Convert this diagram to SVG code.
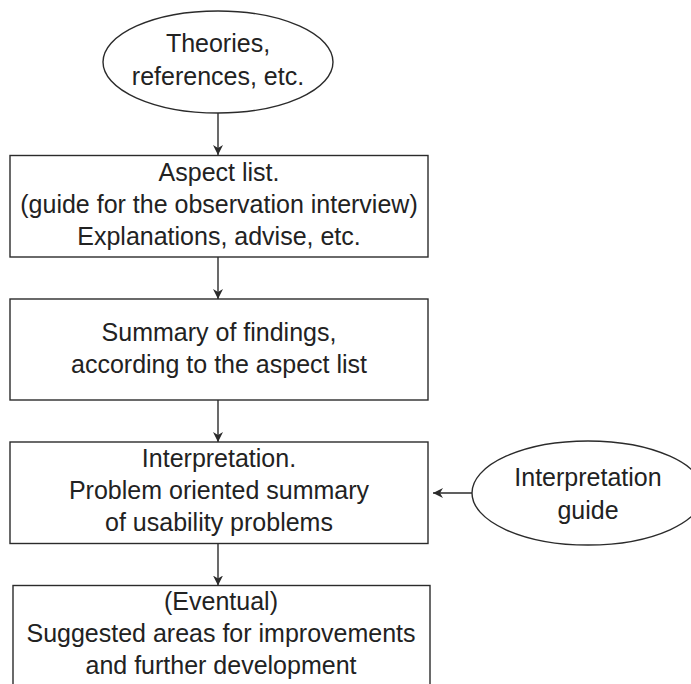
<svg xmlns="http://www.w3.org/2000/svg" width="691" height="684" viewBox="0 0 691 684">
<defs>
<style>
.shape{fill:#fff;stroke:#2b2b2b;stroke-width:1.4}
.lbl{font-family:"Liberation Sans",Arial,sans-serif;font-size:25px;fill:#222;text-anchor:middle}
.edge{stroke:#2b2b2b;stroke-width:1.4;fill:none;marker-end:url(#arr)}
</style>
<marker id="arr" viewBox="0 0 10 10" refX="10" refY="5" markerWidth="10" markerHeight="10" markerUnits="userSpaceOnUse" orient="auto">
<path d="M0,0 L10,5 L0,10 L3,5 z" fill="#2b2b2b"/>
</marker>
</defs>
<rect width="691" height="684" fill="#fff"/>
<g id="theories">
<ellipse class="shape" cx="218" cy="62" rx="115" ry="51"/>
<text class="lbl" x="218" y="52">Theories,</text>
<text class="lbl" x="218" y="85">references, etc.</text>
</g>
<g id="aspect-list">
<rect class="shape" x="10" y="155.5" width="418" height="101.5"/>
<text class="lbl" x="219" y="181">Aspect list.</text>
<text class="lbl" x="219" y="213">(guide for the observation interview)</text>
<text class="lbl" x="219" y="245">Explanations, advise, etc.</text>
</g>
<g id="summary">
<rect class="shape" x="10" y="299" width="418" height="101"/>
<text class="lbl" x="219" y="341">Summary of findings,</text>
<text class="lbl" x="219" y="373">according to the aspect list</text>
</g>
<g id="interpretation">
<rect class="shape" x="10" y="442" width="418" height="101.5"/>
<text class="lbl" x="219" y="467">Interpretation.</text>
<text class="lbl" x="219" y="499">Problem oriented summary</text>
<text class="lbl" x="219" y="531">of usability problems</text>
</g>
<g id="interpretation-guide">
<ellipse class="shape" cx="588" cy="493" rx="116" ry="52"/>
<text class="lbl" x="588" y="486">Interpretation</text>
<text class="lbl" x="588" y="519">guide</text>
</g>
<g id="suggestions">
<rect class="shape" x="13" y="585.5" width="417" height="130"/>
<text class="lbl" x="221" y="610">(Eventual)</text>
<text class="lbl" x="221" y="642">Suggested areas for improvements</text>
<text class="lbl" x="221" y="674">and further development</text>
</g>
<g id="connectors">
<line class="edge" x1="218" y1="113" x2="218" y2="155"/>
<line class="edge" x1="218" y1="257" x2="218" y2="299"/>
<line class="edge" x1="218" y1="400" x2="218" y2="442"/>
<line class="edge" x1="218" y1="543.5" x2="218" y2="585.5"/>
<line class="edge" x1="472" y1="493" x2="433" y2="493"/>
</g>
</svg>
